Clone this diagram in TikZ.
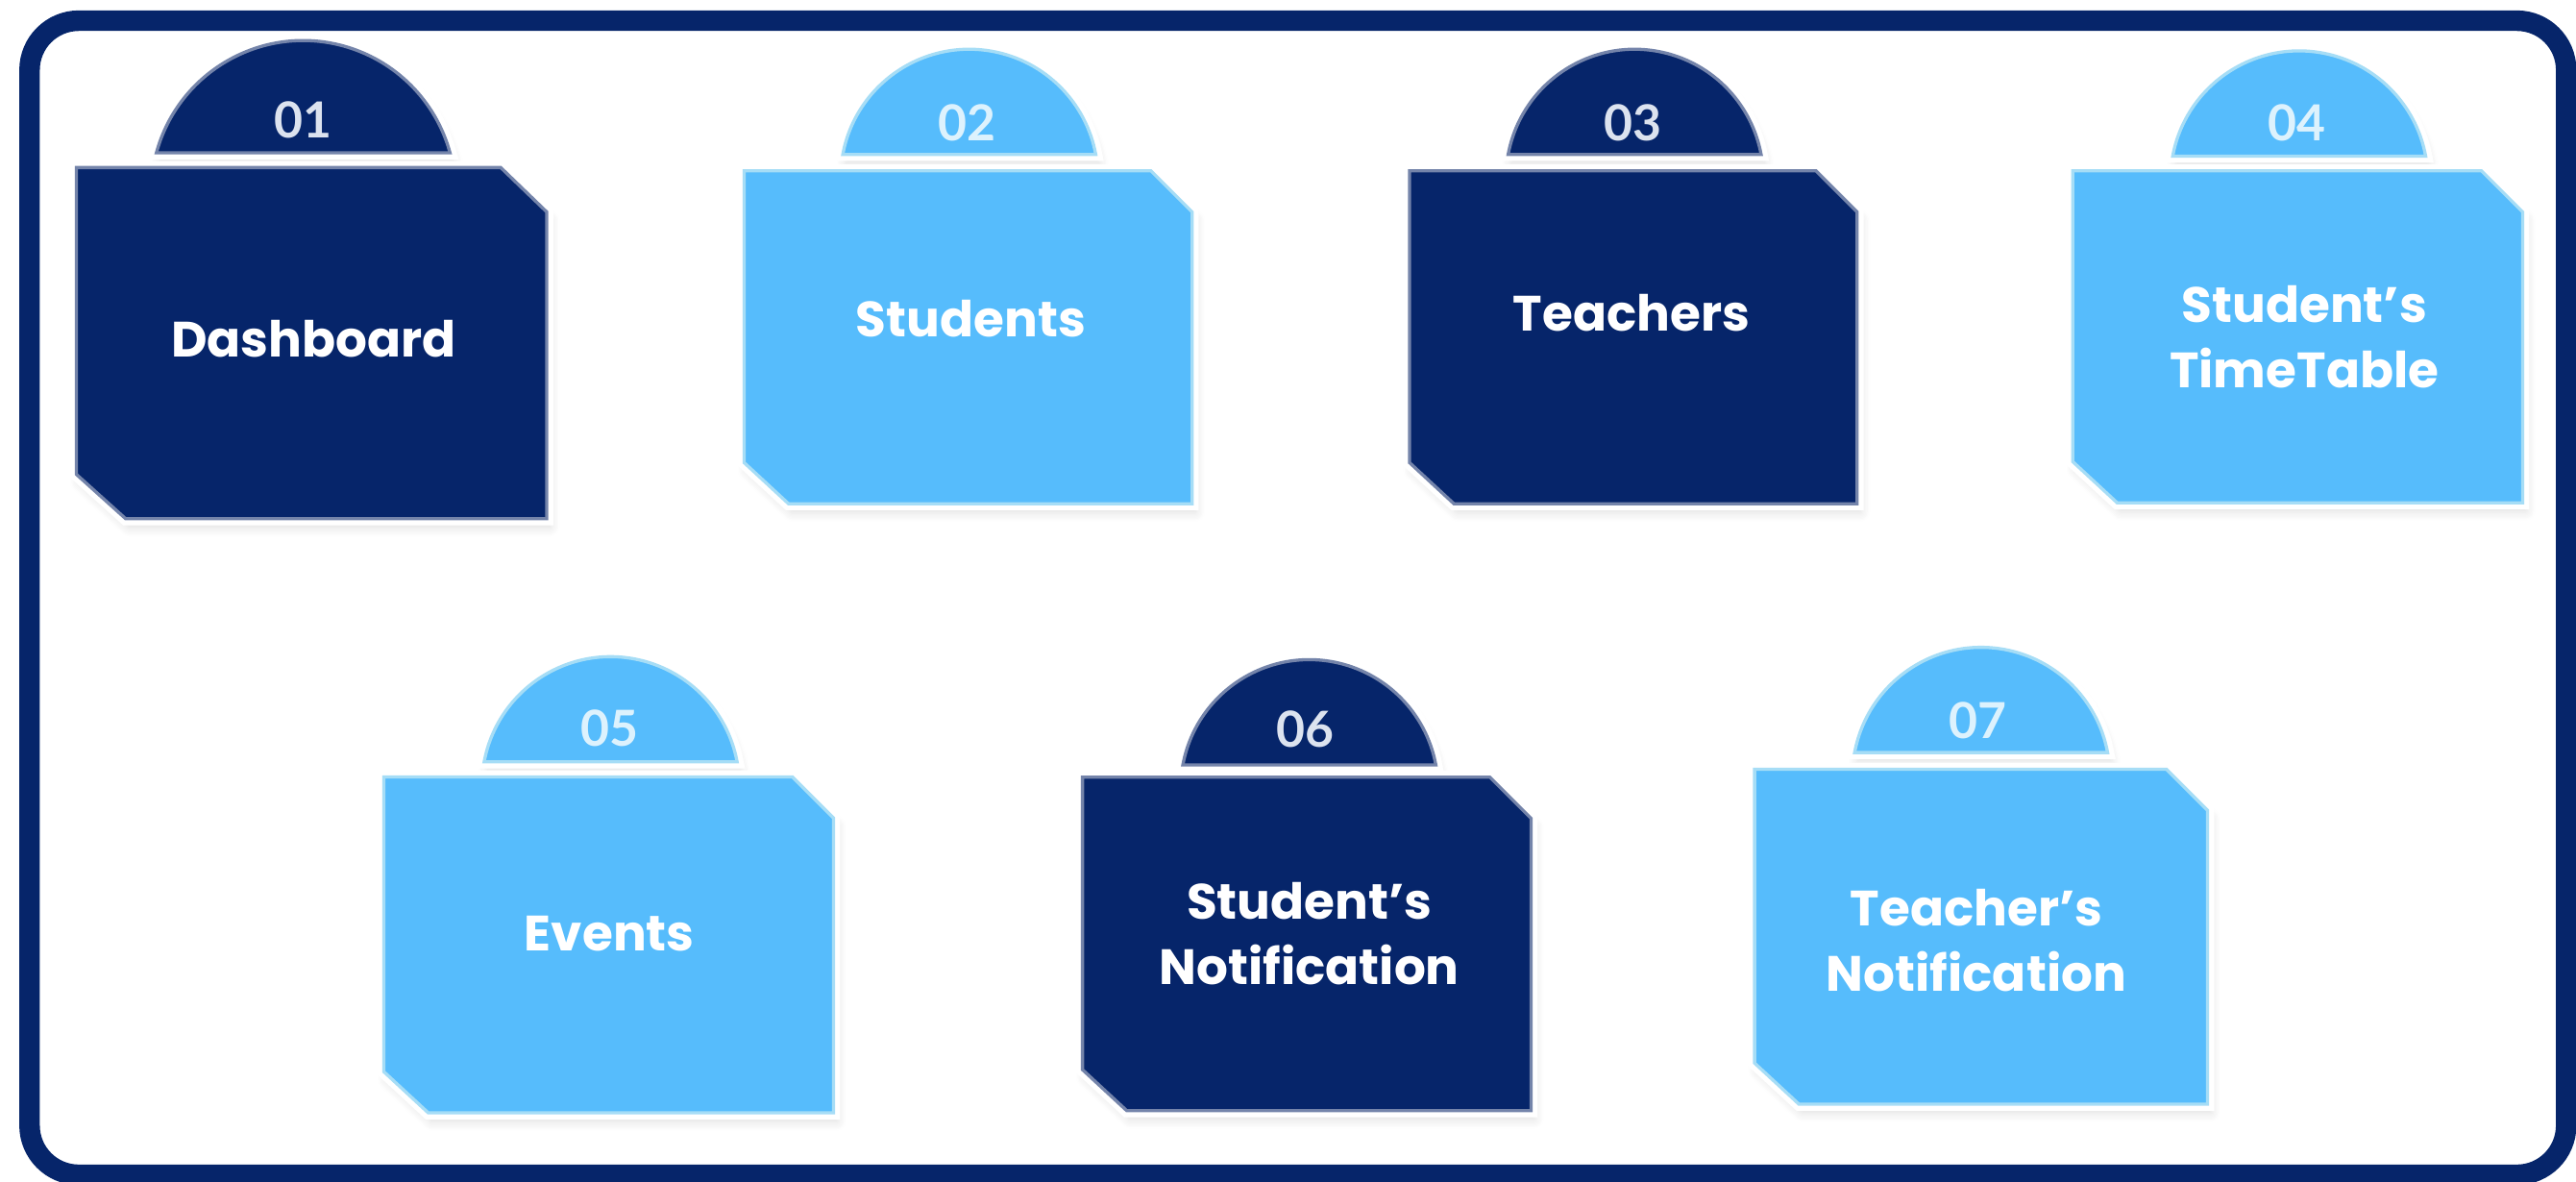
\documentclass[tikz,border=0pt]{standalone}
\usepackage{fontspec}
\usepackage{tikz}
\usetikzlibrary{shadows.blur}
\newfontfamily\popfont{Poppins}
\newfontfamily\numfont{Lato}
\definecolor{navy}{HTML}{06256A}
\definecolor{navyedge}{HTML}{7484AA}
\definecolor{sky}{HTML}{56BCFC}
\definecolor{skyedge}{HTML}{A6DDF6}
\definecolor{numdark}{HTML}{DCE3EF}
\definecolor{numlight}{HTML}{DDF2FD}

\begin{document}
\begin{tikzpicture}[x=0.02cm, y=0.02cm,
  card/.style={line width=1.1pt, line join=miter,
    blur shadow={shadow xshift=0.04cm, shadow yshift=-0.1cm, shadow opacity=14, shadow blur radius=0.12cm, shadow blur steps=8},
    preaction={draw=white, line width=4.5pt}},
  dark/.style={card, fill=navy, draw=navyedge},
  light/.style={card, fill=sky, draw=skyedge},
  title/.style={text=white, align=center, font=\popfont\bfseries\fontsize{17.2}{22.5}\selectfont},
  number/.style={font=\numfont\bfseries\fontsize{17.2}{18}\selectfont}]
\useasboundingbox (0,0) rectangle (1568,-719);
% outer frame
\draw [navy, line width=0.25cm, rounded corners=0.6cm] (18,-12.6) rectangle (1562,-715);
% top row
\draw [dark] (95.2,-93) arc (164.8:15.2:92.6) -- cycle;
\draw [dark] (46.5,-102) -- (304.8,-102) -- (332.8,-129) -- (332.8,-315.7) -- (76.5,-315.7) -- (46.5,-288.7) -- cycle;
\node [number, text=numdark] (n01) at (184.6,-73) {01};
\node [title] (dashboard) at (191,-206) {Dashboard};
\draw [light] (513,-94) arc (169.5:10.5:78.3) -- cycle;
\draw [light] (453,-104) -- (700.6,-104) -- (725.6,-129) -- (725.6,-306.6) -- (480,-306.6) -- (453,-281.6) -- cycle;
\node [number, text=numlight] (n02) at (588.8,-75) {02};
\node [title] (students) at (591,-194) {Students};
\draw [dark] (918,-94) arc (169.5:10.5:78.3) -- cycle;
\draw [dark] (858,-104) -- (1105.4,-104) -- (1130.4,-129) -- (1130.4,-306.6) -- (885,-306.6) -- (858,-281.6) -- cycle;
\node [number, text=numdark] (n03) at (993.7,-75) {03};
\node [title] (teachers) at (993,-190.7) {Teachers};
\draw [light] (1322.5,-95) arc (169.5:10.5:78.3) -- cycle;
\draw [light] (1261.7,-104) -- (1510.5,-104) -- (1535.5,-129) -- (1535.5,-306) -- (1288.7,-306) -- (1261.7,-281) -- cycle;
\node [number, text=numlight] (n04) at (1398,-75) {04};
\node [title] (timetable) at (1402.6,-205) {Student’s\\TimeTable};
% bottom row
\draw [light] (294.7,-463.7) arc (169.5:10.5:78.3) -- cycle;
\draw [light] (233.7,-472.8) -- (482.3,-472.8) -- (507.3,-497.8) -- (507.3,-677.3) -- (260.7,-677.3) -- (233.7,-652.3) -- cycle;
\node [number, text=numlight] (n05) at (371,-443.3) {05};
\node [title] (events) at (371,-568.2) {Events};
\draw [dark] (720,-465.5) arc (169.5:10.5:78.3) -- cycle;
\draw [dark] (658.9,-473) -- (906.9,-473) -- (931.9,-498) -- (931.9,-676) -- (685.9,-676) -- (658.9,-651) -- cycle;
\node [number, text=numdark] (n06) at (794.3,-443.9) {06};
\node [title] (snotif) at (797,-568.2) {Student’s\\Notification};
\draw [light] (1128.9,-458) arc (169.5:10.5:78.3) -- cycle;
\draw [light] (1068,-468.2) -- (1318.7,-468.2) -- (1343.7,-493.2) -- (1343.7,-672) -- (1095,-672) -- (1068,-647) -- cycle;
\node [number, text=numlight] (n07) at (1204,-438.7) {07};
\node [title] (tnotif) at (1203,-572.4) {Teacher’s\\Notification};
\end{tikzpicture}
\end{document}
